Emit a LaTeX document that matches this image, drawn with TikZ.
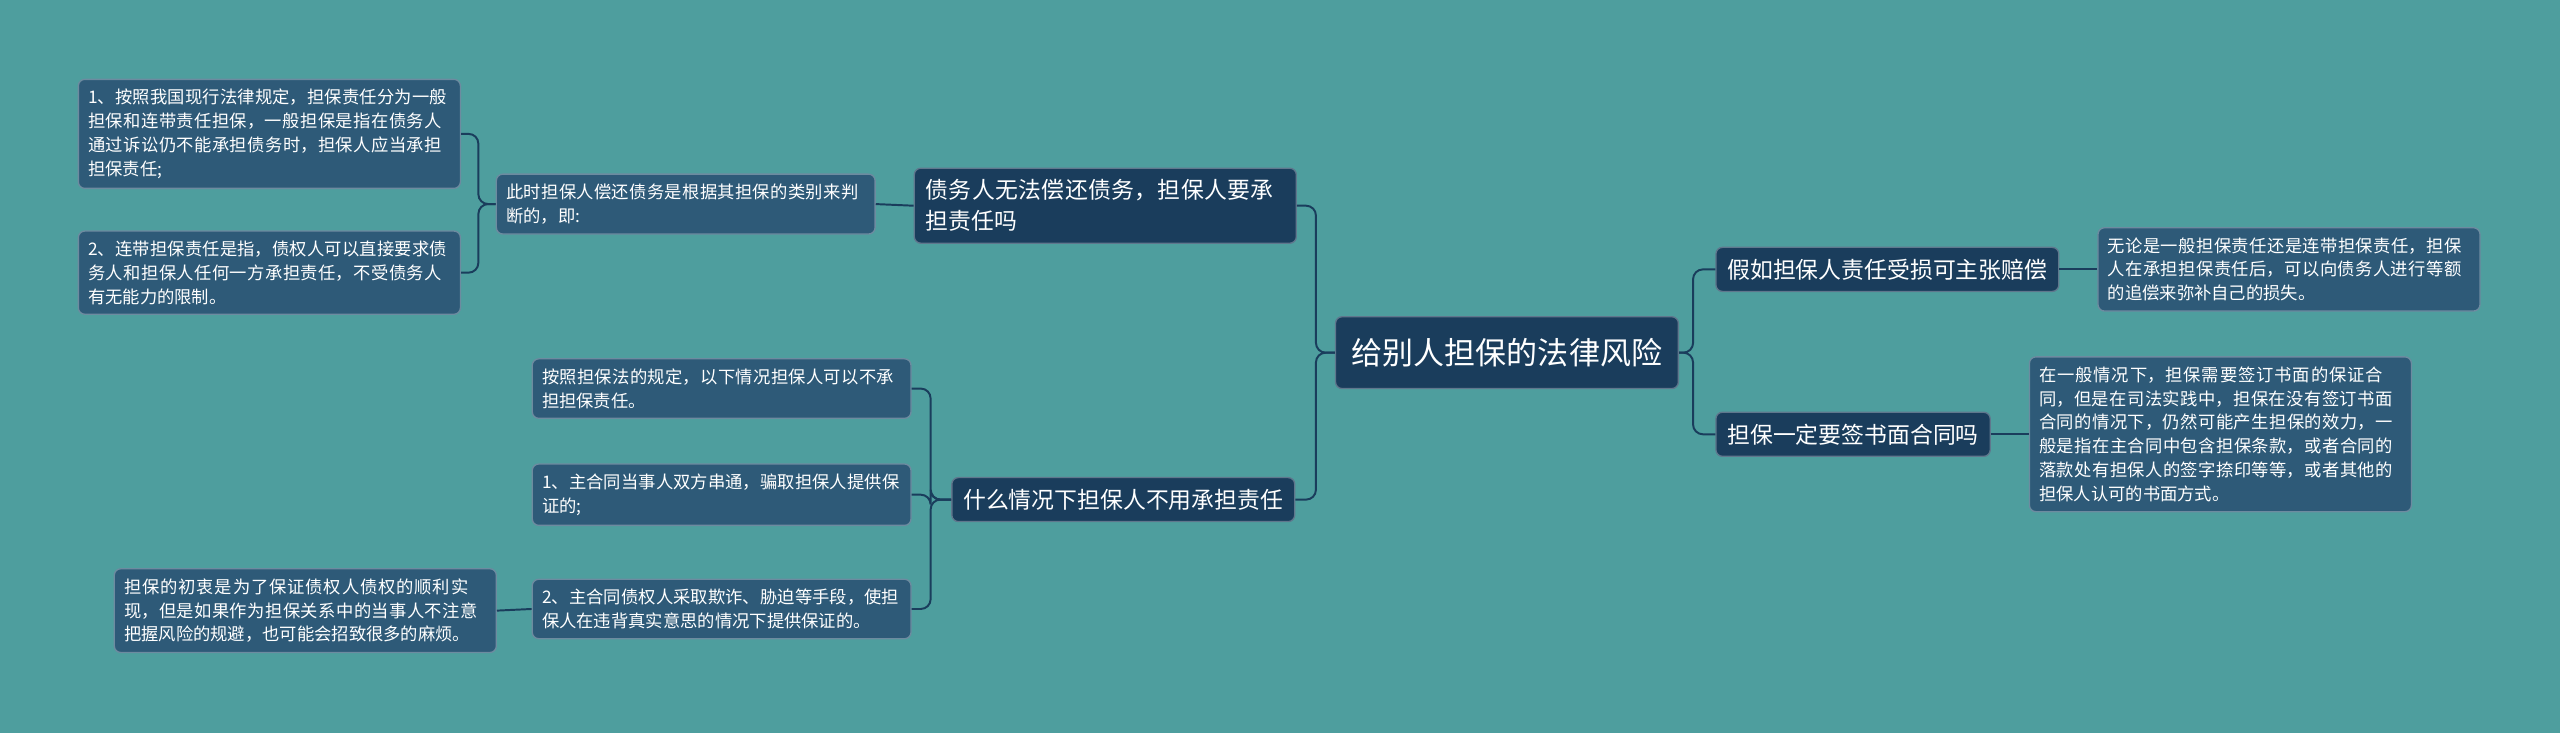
\documentclass[tikz,border=0pt]{standalone}
\usepackage{fontspec}
\setmainfont{Noto Sans CJK SC}
\XeTeXlinebreaklocale "zh"
\XeTeXlinebreakskip=0pt plus 0.5pt
\begin{document}
\begin{tikzpicture}[x=0.5pt,y=-0.5pt,
  bx/.style={draw=#1!70!white, fill=#1, rounded corners=2pt, text=white, inner sep=3pt, align=left},
  leaf/.style={bx=leafc, font=\fontsize{5.3}{7.3}\selectfont, text width=#1, inner sep=3pt},
  mid/.style={bx=midc, font=\fontsize{7}{9.5}\selectfont, inner sep=3.5pt},
  ln/.style={draw=linec, line width=0.6pt, rounded corners=3pt}]
\definecolor{bgc}{HTML}{4E9E9E}
\definecolor{rootc}{HTML}{1A3D5C}
\definecolor{midc}{HTML}{1A3D5C}
\definecolor{leafc}{HTML}{2E5A78}
\definecolor{linec}{HTML}{1A3D5C}
\fill[bgc] (0,0) rectangle (1568,449);
\useasboundingbox (0,0) rectangle (1568,449);
\node[bx=rootc, font=\fontsize{9.5}{12}\selectfont, minimum width=105pt, minimum height=22pt, align=center] (root) at (923,216) {给别人担保的法律风险};
\node[mid, text width=110pt] (a) at (677,126) {债务人无法偿还债务，担保人要承担责任吗};
\node[mid] (b) at (688,306) {什么情况下担保人不用承担责任};
\node[mid] (c) at (1156,165) {假如担保人责任受损可主张赔偿};
\node[mid] (d) at (1135,266) {担保一定要签书面合同吗};
\node[leaf=110pt] (a1) at (420,125) {此时担保人偿还债务是根据其担保的类别来判断的，即:};
\node[leaf=111pt] (a11) at (165,82) {1、按照我国现行法律规定，担保责任分为一般担保和连带责任担保，一般担保是指在债务人通过诉讼仍不能承担债务时，担保人应当承担担保责任;};
\node[leaf=111pt] (a12) at (165,167) {2、连带担保责任是指，债权人可以直接要求债务人和担保人任何一方承担责任，不受债务人有无能力的限制。};
\node[leaf=110pt] (b1) at (442,238) {按照担保法的规定，以下情况担保人可以不承担担保责任。};
\node[leaf=110pt] (b2) at (442,303) {1、主合同当事人双方串通，骗取担保人提供保证的;};
\node[leaf=110pt] (b3) at (442,373) {2、主合同债权人采取欺诈、胁迫等手段，使担保人在违背真实意思的情况下提供保证的。};
\node[leaf=111pt] (b31) at (187,374) {担保的初衷是为了保证债权人债权的顺利实现，但是如果作为担保关系中的当事人不注意把握风险的规避，也可能会招致很多的麻烦。};
\node[leaf=111pt] (c1) at (1402,165) {无论是一般担保责任还是连带担保责任，担保人在承担担保责任后，可以向债务人进行等额的追偿来弥补自己的损失。};
\node[leaf=111pt] (d1) at (1360,266) {在一般情况下，担保需要签订书面的保证合同，但是在司法实践中，担保在没有签订书面合同的情况下，仍然可能产生担保的效力，一般是指在主合同中包含担保条款，或者合同的落款处有担保人的签字捺印等等，或者其他的担保人认可的书面方式。};
\coordinate (jl) at (806,216);
\coordinate (jr) at (1037,216);
\draw[ln] (root.west) -- (jl) |- (a.east);
\draw[ln] (root.west) -- (jl) |- (b.east);
\draw[ln] (root.east) -- (jr) |- (c.west);
\draw[ln] (root.east) -- (jr) |- (d.west);
\draw[ln] (a.west) -- (a1.east);
\coordinate (ja) at (293,125);
\draw[ln] (a1.west) -- (ja) |- (a11.east);
\draw[ln] (a1.west) -- (ja) |- (a12.east);
\coordinate (jb) at (570,306);
\draw[ln] (b.west) -- (jb) |- (b1.east);
\draw[ln] (b.west) -- (jb) |- (b2.east);
\draw[ln] (b.west) -- (jb) |- (b3.east);
\draw[ln] (b3.west) -- (b31.east);
\draw[ln] (c.east) -- (c1.west);
\draw[ln] (d.east) -- (d1.west);
\end{tikzpicture}
\end{document}
